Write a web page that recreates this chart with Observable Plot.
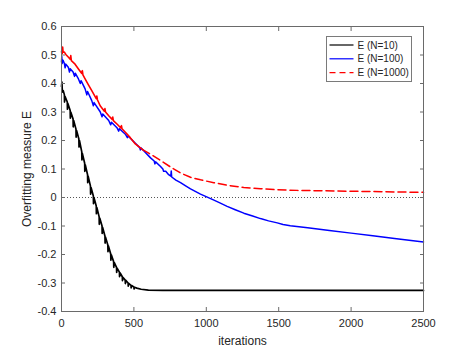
<!DOCTYPE html>
<html>
<head>
<meta charset="utf-8">
<script src="https://cdn.jsdelivr.net/npm/d3@7"></script>
<script src="https://cdn.jsdelivr.net/npm/@observablehq/plot@0.6"></script>
<style>
  html, body { margin: 0; padding: 0; background: #fff; }
  #wrap { position: relative; width: 467px; height: 350px; font-family: "Liberation Sans", Arial, sans-serif; }
  #legend { position: absolute; left: 326px; top: 36px; }
</style>
</head>
<body>
<div id="wrap"></div>
<script>
// ---- data ----
const seriesNames = ["E (N=10)", "E (N=100)", "E (N=1000)"];
const seriesColors = ["#000000", "#0000ff", "#ff0000"];

const xTicks = [0, 500, 1000, 1500, 2000, 2500];
const xTickLabels = ["0", "500", "1000", "1500", "2000", "2500"];
const yTicks = [-0.4, -0.3, -0.2, -0.1, 0, 0.1, 0.2, 0.3, 0.4, 0.5, 0.6];
const yTickLabels = ["-0.4", "-0.3", "-0.2", "-0.1", "0", "0.1", "0.2", "0.3", "0.4", "0.5", "0.6"];

const blackIter = [0,3,6,12,20,21,24,40,41,44,60,61,64,80,81,84,100,101,104,120,121,124,140,141,144,160,161,164,180,181,184,200,201,204,220,221,224,240,241,244,260,261,264,280,281,284,300,301,304,320,321,324,340,341,344,360,361,364,380,381,384,400,401,404,420,421,424,440,441,444,460,461,464,480,481,484,500,501,504,520,550,600,700,2500];
const blackE = [0.39,0.405,0.37,0.375,0.36,0.335,0.355,0.335,0.31,0.33,0.305,0.278,0.30,0.275,0.248,0.27,0.24,0.212,0.235,0.205,0.177,0.20,0.16,0.132,0.155,0.12,0.092,0.115,0.08,0.052,0.075,0.04,0.012,0.035,0.005,-0.022,0.0,-0.03,-0.057,-0.035,-0.068,-0.094,-0.072,-0.10,-0.126,-0.105,-0.135,-0.16,-0.139,-0.167,-0.19,-0.17,-0.198,-0.22,-0.201,-0.225,-0.245,-0.228,-0.245,-0.263,-0.248,-0.262,-0.278,-0.264,-0.278,-0.292,-0.28,-0.29,-0.302,-0.291,-0.30,-0.311,-0.301,-0.308,-0.317,-0.309,-0.314,-0.321,-0.315,-0.318,-0.322,-0.325,-0.326,-0.326];

const blueIter = [0,2,4,10,20,25,30,48,55,60,80,90,95,117,130,135,163,175,180,209,220,225,267,280,285,326,340,345,383,395,400,441,455,460,510,540,545,550,615,640,645,650,684,700,705,720,740,755,758,761,790,822,860,891,960,1030,1090,1144,1200,1259,1320,1374,1430,1490,1530,1580,1700,1850,2000,2150,2300,2500];
const blueE = [0.475,0.495,0.47,0.482,0.47,0.455,0.468,0.456,0.44,0.452,0.44,0.425,0.436,0.416,0.40,0.41,0.381,0.36,0.372,0.34,0.322,0.333,0.301,0.283,0.293,0.27,0.255,0.264,0.245,0.233,0.241,0.222,0.21,0.216,0.19,0.175,0.167,0.174,0.139,0.128,0.118,0.125,0.109,0.10,0.092,0.092,0.08,0.075,0.093,0.072,0.061,0.052,0.04,0.03,0.012,-0.004,-0.018,-0.031,-0.043,-0.055,-0.065,-0.074,-0.082,-0.089,-0.095,-0.099,-0.106,-0.116,-0.125,-0.134,-0.144,-0.156];

const redIter = [0,3,5,8,11,20,30,48,60,64,68,90,117,140,144,148,163,185,209,240,244,248,267,296,300,304,326,350,354,358,383,410,414,418,441,475,510,560,615,684,753,822,891,960,1052,1144,1259,1374,1490,1628,2000,2500];
const redE = [0.51,0.52,0.505,0.528,0.51,0.51,0.502,0.492,0.485,0.498,0.48,0.47,0.451,0.435,0.445,0.43,0.416,0.396,0.375,0.347,0.356,0.343,0.322,0.303,0.312,0.30,0.287,0.274,0.282,0.27,0.258,0.244,0.252,0.241,0.229,0.21,0.188,0.168,0.152,0.13,0.107,0.086,0.071,0.062,0.052,0.043,0.035,0.031,0.027,0.025,0.022,0.018];
// the noisy early part of the N=1000 run reads as solid in the reference
const redSolidUntil = 560;

const toRows = (xs, ys) => xs.map((x, i) => ({x, y: ys[i]}));
const black = toRows(blackIter, blackE);
const blue = toRows(blueIter, blueE);
const red = toRows(redIter, redE);

const axisColor = "#6a6a6a";
const textColor = "#262626";

const chart = Plot.plot({
  width: 467,
  height: 350,
  marginLeft: 61,
  marginRight: 44,
  marginTop: 26,
  marginBottom: 39,
  style: { fontFamily: "'Liberation Sans', Arial, sans-serif", fontSize: "11px", color: textColor, background: "#fff" },
  x: { domain: [0, 2500] },
  y: { domain: [-0.4, 0.6] },
  marks: [
    Plot.ruleY([0], { stroke: "#555", strokeWidth: 1, strokeDasharray: "1,2" }),
    Plot.line(black, { x: "x", y: "y", stroke: seriesColors[0], strokeWidth: 1.7 }),
    Plot.line(blue, { x: "x", y: "y", stroke: seriesColors[1], strokeWidth: 1.5 }),
    Plot.line(red, { filter: d => d.x <= redSolidUntil, x: "x", y: "y", stroke: seriesColors[2], strokeWidth: 1.6 }),
    Plot.line(red, { filter: d => d.x >= redSolidUntil, x: "x", y: "y", stroke: seriesColors[2], strokeWidth: 1.5, strokeDasharray: "8,4" }),
    Plot.frame({ stroke: axisColor, strokeWidth: 1 }),
    Plot.axisX({ ticks: xTicks, tickSize: 0, tickPadding: 8, tickFormat: (d, i) => xTickLabels[i], label: null, fill: textColor }),
    Plot.axisX({ ticks: xTicks, tickSize: -4, tickFormat: () => "", label: null, stroke: axisColor }),
    Plot.axisX({ anchor: "top", ticks: xTicks, tickSize: -4, tickFormat: () => "", label: null, stroke: axisColor }),
    Plot.axisY({ ticks: yTicks, tickSize: 0, tickPadding: 5, tickFormat: (d, i) => yTickLabels[i], label: null, fill: textColor }),
    Plot.axisY({ ticks: yTicks, tickSize: -4, tickFormat: () => "", label: null, stroke: axisColor }),
    Plot.axisY({ anchor: "right", ticks: yTicks, tickSize: -4, tickFormat: () => "", label: null, stroke: axisColor }),
    Plot.text(["iterations"], { frameAnchor: "bottom", dy: 30, fontSize: 12, fill: textColor, textAnchor: "middle", lineAnchor: "middle" }),
    Plot.text(["Overfitting measure E"], { frameAnchor: "left", dx: -34, rotate: -90, fontSize: 12, fill: textColor, textAnchor: "middle", lineAnchor: "middle" })
  ]
});

const wrap = document.getElementById("wrap");
wrap.appendChild(chart);

// legend box
const lg = d3.select(wrap).append("svg")
  .attr("id", "legend")
  .attr("width", 86).attr("height", 46)
  .style("font-family", "'Liberation Sans', Arial, sans-serif")
  .style("font-size", "10px");
lg.append("rect").attr("x", 0.5).attr("y", 0.5).attr("width", 85).attr("height", 45)
  .attr("fill", "#fff").attr("stroke", "#7a7a7a").attr("stroke-width", 1);
const dashes = [null, null, "6,4"];
seriesNames.forEach((name, i) => {
  const cy = 9 + i * 13.8;
  lg.append("line").attr("x1", 3.5).attr("x2", 27.5).attr("y1", cy).attr("y2", cy)
    .attr("stroke", seriesColors[i]).attr("stroke-width", 1.2)
    .attr("stroke-dasharray", dashes[i]);
  lg.append("text").attr("x", 31.5).attr("y", cy).attr("dy", "0.35em")
    .attr("fill", textColor).text(name);
});
</script>
</body>
</html>
